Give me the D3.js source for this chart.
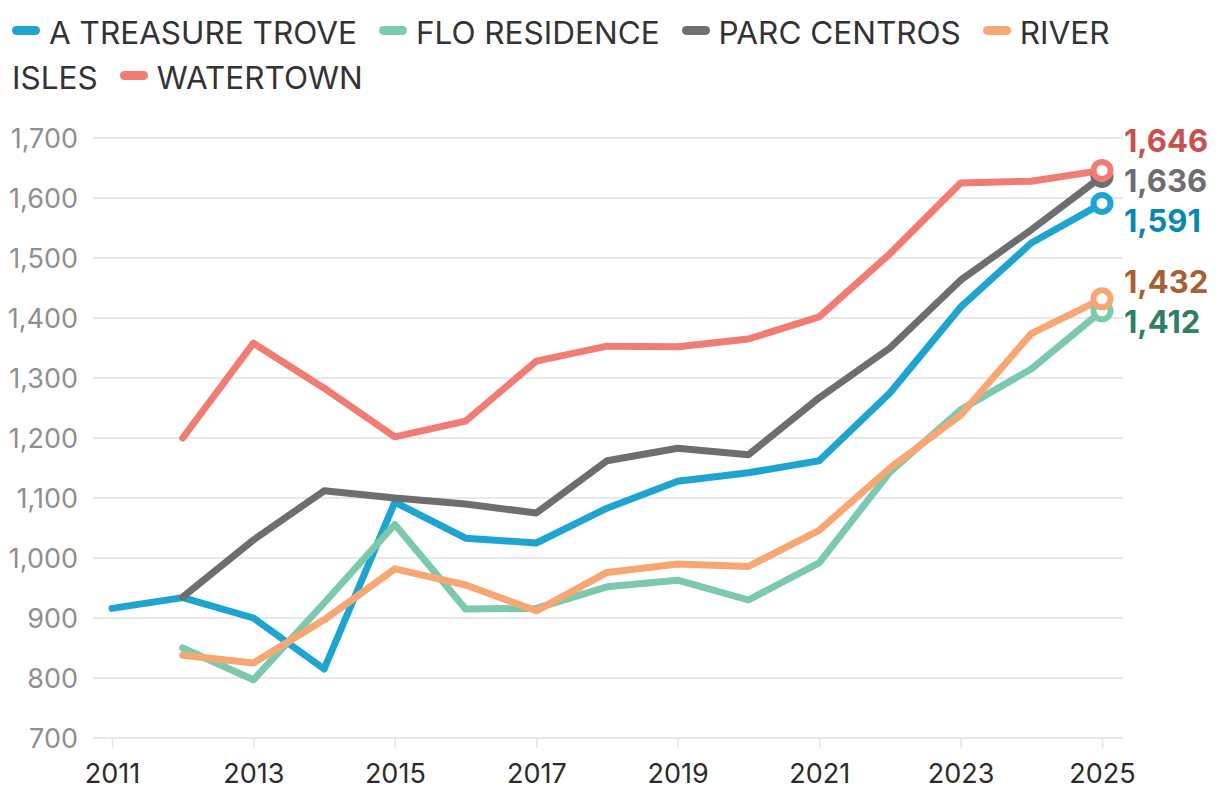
<!DOCTYPE html>
<html>
<head>
<meta charset="utf-8">
<script src="https://cdn.jsdelivr.net/npm/d3@7"></script>
<style>
body { margin: 0; background: #fff; font-family: Inter, Roboto, sans-serif; }
#wrap { position: relative; width: 1220px; height: 804px; }
#legend { position: absolute; left: 12px; top: 10px; width: 1180px; font-size: 31.5px; line-height: 45px; color: #333; }
#legend .item { margin-right: 22px; }
#legend .sw { display: inline-block; width: 28px; height: 9px; border-radius: 5px; margin-right: 9px; vertical-align: 0.3em; }
svg { position: absolute; left: 0; top: 0; }
</style>
</head>
<body>
<div id="wrap"><div id="legend"></div><div id="content"></div></div>
<script>
var years = [2011, 2012, 2013, 2014, 2015, 2016, 2017, 2018, 2019, 2020, 2021, 2022, 2023, 2024, 2025];
var names = ["A TREASURE TROVE", "FLO RESIDENCE", "PARC CENTROS", "RIVER ISLES", "WATERTOWN"];
var treasureTrove = [916, 934, 900, 815, 1093, 1033, 1025, 1083, 1128, 1142, 1162, 1275, 1418, 1525, 1591];
var floResidence = [null, 850, 797, 925, 1056, 915, 916, 952, 963, 930, 992, 1143, 1247, 1315, 1412];
var parcCentros = [null, 935, 1030, 1112, 1100, 1090, 1075, 1162, 1183, 1172, 1267, 1350, 1463, 1547, 1636];
var riverIsles = [null, 838, 825, 897, 982, 955, 912, 976, 990, 986, 1046, 1150, 1238, 1374, 1432];
var watertown = [null, 1200, 1358, 1283, 1202, 1228, 1328, 1353, 1352, 1365, 1402, 1507, 1625, 1628, 1646];
var lineColors = ["#1ea5cf", "#7dc9ae", "#6e6e70", "#f7a674", "#f17c74"];
var labelColors = ["#0a88b0", "#2f7f66", "#6e6e70", "#a85f33", "#c9504e"];
var yTicks = [700, 800, 900, 1000, 1100, 1200, 1300, 1400, 1500, 1600, 1700];
var xTicks = [2011, 2013, 2015, 2017, 2019, 2021, 2023, 2025];

var series = [treasureTrove, floResidence, parcCentros, riverIsles, watertown].map(function(vals, i) {
    return {
        name: names[i], color: lineColors[i], labelColor: labelColors[i],
        values: years.map(function(yr, j) { return {year: yr, value: vals[j]}; })
            .filter(function(d) { return d.value != null; })
    };
});

// legend (html so "RIVER ISLES" wraps like the original)
var leg = d3.select("#legend").selectAll(".item")
    .data(series)
    .enter().append("span")
    .attr("class", "item");
leg.append("span").attr("class", "sw").style("background", function(d) { return d.color; });
leg.each(function(d) { this.appendChild(document.createTextNode(d.name)); });

var svg = d3.select("#content").append("svg").attr("width", 1220).attr("height", 804);

var x = d3.scaleLinear().domain([2011, 2025]).range([112, 1102]);
var y = d3.scaleLinear().domain([700, 1700]).range([738, 138]);

// grid
svg.append("g").selectAll("line")
    .data(yTicks)
    .enter().append("line")
    .attr("x1", 93).attr("x2", 1123)
    .attr("y1", function(d) { return y(d); })
    .attr("y2", function(d) { return y(d); })
    .attr("stroke", "#e9e9e9")
    .attr("stroke-width", 2);

svg.append("g").selectAll("text")
    .data(yTicks)
    .enter().append("text")
    .attr("x", 78)
    .attr("y", function(d) { return y(d); })
    .attr("dy", "0.36em")
    .attr("text-anchor", "end")
    .attr("fill", "#8f8f8f")
    .style("font-size", "27px")
    .text(d3.format(","));

var xAxis = svg.append("g")
    .attr("transform", "translate(0," + y(700) + ")")
    .call(d3.axisBottom(x).tickValues(xTicks).tickFormat(d3.format("d")).tickSize(10).tickPadding(16));
xAxis.select(".domain").remove();
xAxis.selectAll("line").attr("stroke", "#e6e6e6").attr("stroke-width", 1.5);
xAxis.selectAll("text").attr("fill", "#2b2b2b").style("font-size", "27px").style("font-family", "Inter, sans-serif");

var line = d3.line()
    .x(function(d) { return x(d.year); })
    .y(function(d) { return y(d.value); });

svg.append("g").selectAll("path")
    .data(series)
    .enter().append("path")
    .attr("d", function(d) { return line(d.values); })
    .attr("fill", "none")
    .attr("stroke", function(d) { return d.color; })
    .attr("stroke-width", 7)
    .attr("stroke-linejoin", "round")
    .attr("stroke-linecap", "round");

var ends = series.map(function(s) {
    var last = s.values[s.values.length - 1];
    return {s: s, last: last, ty: y(last.value), ly: y(last.value)};
});

svg.append("g").selectAll("circle")
    .data(ends.slice().sort(function(a, b) { return b.ty - a.ty; }))
    .enter().append("circle")
    .attr("cx", function(d) { return x(d.last.year); })
    .attr("cy", function(d) { return d.ty; })
    .attr("r", 8.5)
    .attr("fill", "#fff")
    .attr("stroke", function(d) { return d.s.color; })
    .attr("stroke-width", 6);

// spread labels apart
var sorted = ends.slice().sort(function(a, b) { return a.ty - b.ty; });
var gap = 40;
for (var it = 0; it < 200; it++) {
    for (var i = 1; i < sorted.length; i++) {
        var diff = sorted[i].ly - sorted[i - 1].ly;
        if (diff < gap) {
            var push = (gap - diff) / 2;
            sorted[i].ly += push;
            sorted[i - 1].ly -= push;
        }
    }
}

svg.append("g").selectAll("text")
    .data(ends)
    .enter().append("text")
    .attr("x", 1124)
    .attr("y", function(d) { return d.ly - 3; })
    .attr("dy", "0.36em")
    .attr("fill", function(d) { return d.s.labelColor; })
    .style("font-size", "31px")
    .style("font-weight", "bold")
    .style("font-family", "Inter, sans-serif")
    .text(function(d) { return d3.format(",")(d.last.value); });
</script>
</body>
</html>
